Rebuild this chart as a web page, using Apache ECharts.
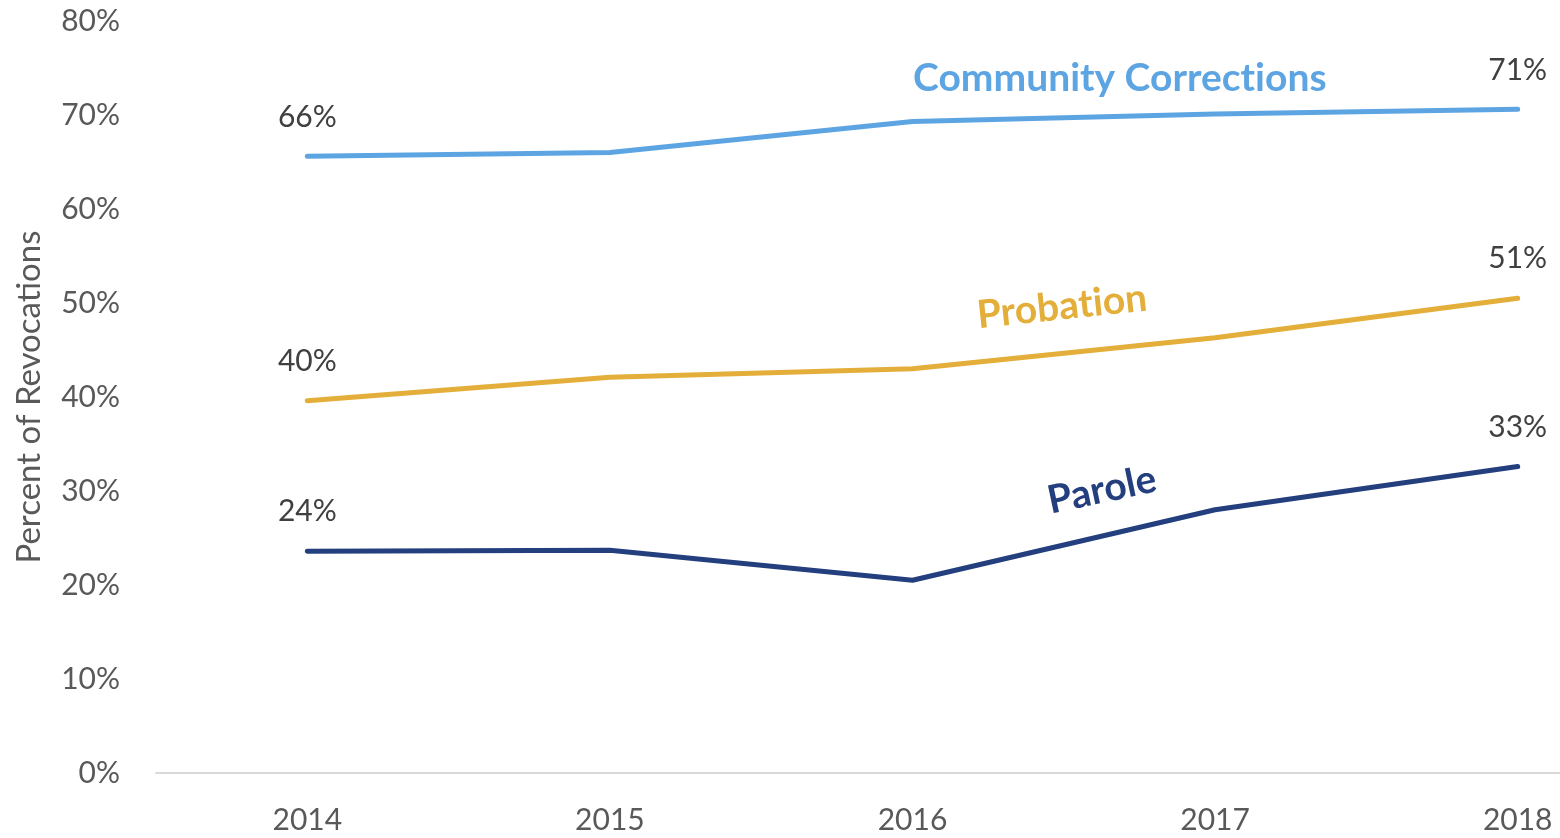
<!DOCTYPE html>
<html>
<head>
<meta charset="utf-8">
<script src="https://cdn.jsdelivr.net/npm/echarts@6/dist/echarts.min.js"></script>
<style>
  html, body { margin: 0; padding: 0; background: #fff; }
  #chart { width: 1560px; height: 838px; }
</style>
</head>
<body>
<div id="chart"></div>
<script>
// Share of revocations by supervision type, 2014–2018
const years = ['2014', '2015', '2016', '2017', '2018'];
const communityCorrections = [65.6, 66.0, 69.3, 70.1, 70.6];
const probation = [39.6, 42.1, 43.0, 46.3, 50.5];
const parole = [23.6, 23.7, 20.5, 28.0, 32.6];
const yTicks = [0, 10, 20, 30, 40, 50, 60, 70, 80];

// Series name placement: [position along years (0 = 2014), value, rotation]
const ccNameAt = [2.685, 73.9, 0];
const probationNameAt = [2.494, 49.6, 6];
const paroleNameAt = [2.626, 30.1, 12];

const COLORS = {
  cc: '#5da5e2',
  probation: '#e3ae39',
  parole: '#243f7d'
};

const FONT = 'Lato, "Open Sans", sans-serif';

function endLabels(values) {
  return values.map((v, i) => ({
    value: v,
    label: { show: i === 0 || i === values.length - 1 }
  }));
}

function lineSeries(name, values, color) {
  return {
    name: name,
    type: 'line',
    data: endLabels(values),
    symbol: 'circle',
    symbolSize: 1,
    showSymbol: true,
    lineStyle: { color: color, width: 5, cap: 'round', join: 'round' },
    itemStyle: { color: color },
    label: {
      position: 'top',
      distance: 24,
      formatter: p => Math.round(p.value) + '%',
      color: '#404040',
      fontFamily: FONT,
      fontSize: 30
    },
    z: 3
  };
}

// ZWNJ keeps the "ti" pair from merging into a ligature
function nameItem(text, at, color) {
  return {
    value: [at[0], at[1]],
    label: {
      show: true,
      position: 'inside',
      formatter: text.replace(/ti/g, 't\u200Ci'),
      rotate: at[2],
      color: color,
      opacity: 1,
      fontFamily: FONT,
      fontWeight: 'bold',
      fontSize: 39
    }
  };
}

const chart = echarts.init(document.getElementById('chart'), null, { renderer: 'canvas' });
chart.setOption({
  animation: false,
  backgroundColor: '#fff',
  grid: {
    left: 156, top: 21, width: 1513, height: 752,
    containLabel: false, outerBoundsMode: 'none'
  },
  xAxis: [{
    type: 'category',
    data: years,
    boundaryGap: true,
    axisLine: { lineStyle: { color: '#d9d9d9', width: 2 } },
    axisTick: { show: false },
    axisLabel: { color: '#595959', fontFamily: FONT, fontSize: 30, margin: 32 }
  }, {
    // hidden companion axis spanning the same band as the year categories
    type: 'value',
    min: -0.5,
    max: years.length - 0.5,
    show: false
  }],
  yAxis: {
    type: 'value',
    min: yTicks[0],
    max: yTicks[yTicks.length - 1],
    interval: yTicks[1] - yTicks[0],
    name: 'Percent of Revocations',
    nameLocation: 'middle',
    nameGap: 110,
    nameTextStyle: { color: '#595959', fontFamily: FONT, fontSize: 33 },
    axisLine: { show: false },
    axisTick: { show: false },
    splitLine: { show: false },
    axisLabel: {
      color: '#595959', fontFamily: FONT, fontSize: 30, margin: 36,
      formatter: v => v + '%'
    }
  },
  series: [
    lineSeries('Community Corrections', communityCorrections, COLORS.cc),
    lineSeries('Probation', probation, COLORS.probation),
    lineSeries('Parole', parole, COLORS.parole),
    {
      type: 'scatter',
      xAxisIndex: 1,
      silent: true,
      symbolSize: 0,
      itemStyle: { color: 'rgba(0,0,0,0)', opacity: 1 },
      data: [
        nameItem('Community Corrections', ccNameAt, COLORS.cc),
        nameItem('Probation', probationNameAt, COLORS.probation),
        nameItem('Parole', paroleNameAt, COLORS.parole)
      ],
      z: 4
    }
  ]
});
</script>
</body>
</html>
